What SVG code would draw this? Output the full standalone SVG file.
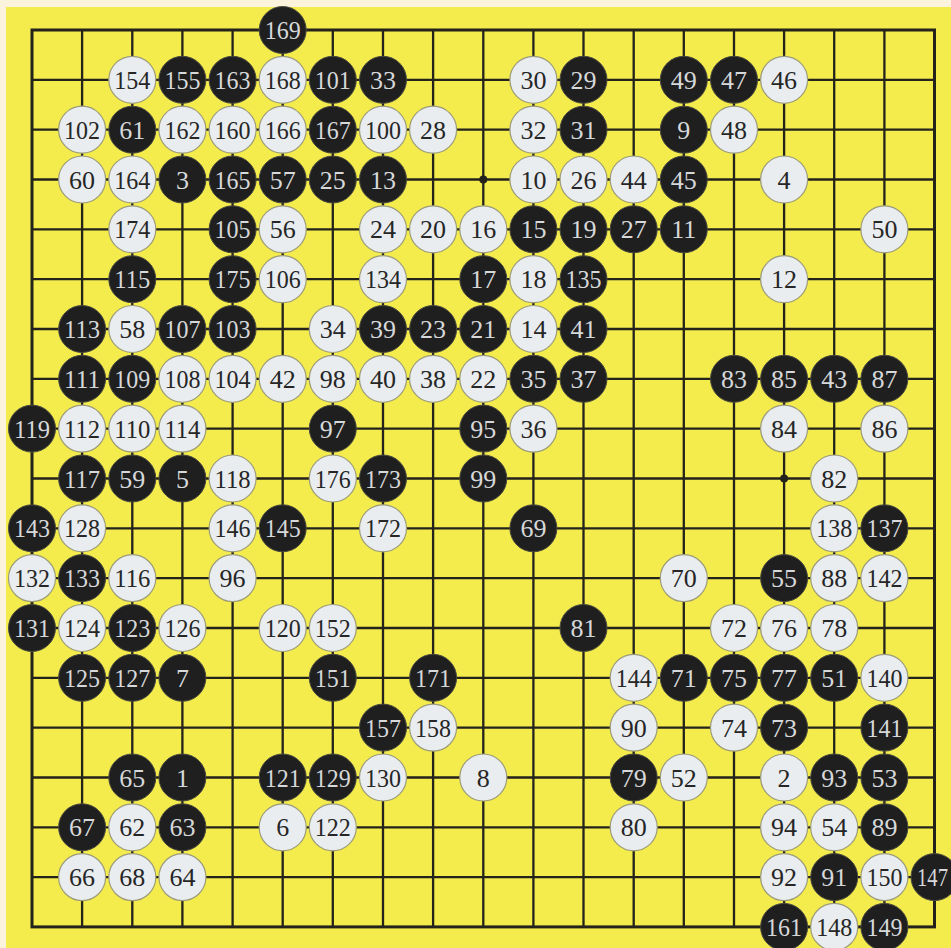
<svg xmlns="http://www.w3.org/2000/svg" width="951" height="948" viewBox="0 0 951 948">
<style>
.grid{fill:none;stroke:#23231c;stroke-width:2.3}
.edge{fill:none;stroke:#23231c;stroke-width:3}
.b{fill:#1f1f1f;stroke:#4a4a40;stroke-width:1}
.w{fill:#e9edf0;stroke:#9c9c7c;stroke-width:1.2}
text{font-family:"Liberation Serif","Times New Roman",serif;font-size:26px;text-anchor:middle}
.tb{fill:#d6d8da}
.tw{fill:#262626}
</style>
<rect x="0" y="0" width="951" height="948" fill="#fcf3dd"/>
<rect x="6" y="7" width="945" height="941" fill="#f4eb4c"/>
<g id="board">
<path class="grid" d="M82.1 30V926.9M132.3 30V926.9M182.4 30V926.9M232.6 30V926.9M282.7 30V926.9M332.8 30V926.9M383 30V926.9M433.1 30V926.9M483.3 30V926.9M533.4 30V926.9M583.5 30V926.9M633.7 30V926.9M683.8 30V926.9M734 30V926.9M784.1 30V926.9M834.2 30V926.9M884.4 30V926.9M32 79.8H934.5M32 129.7H934.5M32 179.5H934.5M32 229.3H934.5M32 279.2H934.5M32 329H934.5M32 378.8H934.5M32 428.6H934.5M32 478.5H934.5M32 528.3H934.5M32 578.1H934.5M32 628H934.5M32 677.8H934.5M32 727.6H934.5M32 777.5H934.5M32 827.3H934.5M32 877.1H934.5"/>
<rect class="edge" x="32" y="30" width="902.5" height="896.9"/>
<circle cx="483.3" cy="179.5" r="4" fill="#23231c"/>
<circle cx="784.1" cy="478.5" r="4" fill="#23231c"/>
</g>
<g id="stones">
<g id="s169" transform="translate(282.7,30)"><circle class="b" r="23.5"/><text class="tb" y="9" textLength="36" lengthAdjust="spacingAndGlyphs">169</text></g>
<g id="s154" transform="translate(132.3,79.8)"><circle class="w" r="23.5"/><text class="tw" y="9" textLength="36" lengthAdjust="spacingAndGlyphs">154</text></g>
<g id="s155" transform="translate(182.4,79.8)"><circle class="b" r="23.5"/><text class="tb" y="9" textLength="36" lengthAdjust="spacingAndGlyphs">155</text></g>
<g id="s163" transform="translate(232.6,79.8)"><circle class="b" r="23.5"/><text class="tb" y="9" textLength="36" lengthAdjust="spacingAndGlyphs">163</text></g>
<g id="s168" transform="translate(282.7,79.8)"><circle class="w" r="23.5"/><text class="tw" y="9" textLength="36" lengthAdjust="spacingAndGlyphs">168</text></g>
<g id="s101" transform="translate(332.8,79.8)"><circle class="b" r="23.5"/><text class="tb" y="9" textLength="36" lengthAdjust="spacingAndGlyphs">101</text></g>
<g id="s33" transform="translate(383,79.8)"><circle class="b" r="23.5"/><text class="tb" y="9">33</text></g>
<g id="s30" transform="translate(533.4,79.8)"><circle class="w" r="23.5"/><text class="tw" y="9">30</text></g>
<g id="s29" transform="translate(583.5,79.8)"><circle class="b" r="23.5"/><text class="tb" y="9">29</text></g>
<g id="s49" transform="translate(683.8,79.8)"><circle class="b" r="23.5"/><text class="tb" y="9">49</text></g>
<g id="s47" transform="translate(734,79.8)"><circle class="b" r="23.5"/><text class="tb" y="9">47</text></g>
<g id="s46" transform="translate(784.1,79.8)"><circle class="w" r="23.5"/><text class="tw" y="9">46</text></g>
<g id="s102" transform="translate(82.1,129.7)"><circle class="w" r="23.5"/><text class="tw" y="9" textLength="36" lengthAdjust="spacingAndGlyphs">102</text></g>
<g id="s61" transform="translate(132.3,129.7)"><circle class="b" r="23.5"/><text class="tb" y="9">61</text></g>
<g id="s162" transform="translate(182.4,129.7)"><circle class="w" r="23.5"/><text class="tw" y="9" textLength="36" lengthAdjust="spacingAndGlyphs">162</text></g>
<g id="s160" transform="translate(232.6,129.7)"><circle class="w" r="23.5"/><text class="tw" y="9" textLength="36" lengthAdjust="spacingAndGlyphs">160</text></g>
<g id="s166" transform="translate(282.7,129.7)"><circle class="w" r="23.5"/><text class="tw" y="9" textLength="36" lengthAdjust="spacingAndGlyphs">166</text></g>
<g id="s167" transform="translate(332.8,129.7)"><circle class="b" r="23.5"/><text class="tb" y="9" textLength="36" lengthAdjust="spacingAndGlyphs">167</text></g>
<g id="s100" transform="translate(383,129.7)"><circle class="w" r="23.5"/><text class="tw" y="9" textLength="36" lengthAdjust="spacingAndGlyphs">100</text></g>
<g id="s28" transform="translate(433.1,129.7)"><circle class="w" r="23.5"/><text class="tw" y="9">28</text></g>
<g id="s32" transform="translate(533.4,129.7)"><circle class="w" r="23.5"/><text class="tw" y="9">32</text></g>
<g id="s31" transform="translate(583.5,129.7)"><circle class="b" r="23.5"/><text class="tb" y="9">31</text></g>
<g id="s9" transform="translate(683.8,129.7)"><circle class="b" r="23.5"/><text class="tb" y="9">9</text></g>
<g id="s48" transform="translate(734,129.7)"><circle class="w" r="23.5"/><text class="tw" y="9">48</text></g>
<g id="s60" transform="translate(82.1,179.5)"><circle class="w" r="23.5"/><text class="tw" y="9">60</text></g>
<g id="s164" transform="translate(132.3,179.5)"><circle class="w" r="23.5"/><text class="tw" y="9" textLength="36" lengthAdjust="spacingAndGlyphs">164</text></g>
<g id="s3" transform="translate(182.4,179.5)"><circle class="b" r="23.5"/><text class="tb" y="9">3</text></g>
<g id="s165" transform="translate(232.6,179.5)"><circle class="b" r="23.5"/><text class="tb" y="9" textLength="36" lengthAdjust="spacingAndGlyphs">165</text></g>
<g id="s57" transform="translate(282.7,179.5)"><circle class="b" r="23.5"/><text class="tb" y="9">57</text></g>
<g id="s25" transform="translate(332.8,179.5)"><circle class="b" r="23.5"/><text class="tb" y="9">25</text></g>
<g id="s13" transform="translate(383,179.5)"><circle class="b" r="23.5"/><text class="tb" y="9">13</text></g>
<g id="s10" transform="translate(533.4,179.5)"><circle class="w" r="23.5"/><text class="tw" y="9">10</text></g>
<g id="s26" transform="translate(583.5,179.5)"><circle class="w" r="23.5"/><text class="tw" y="9">26</text></g>
<g id="s44" transform="translate(633.7,179.5)"><circle class="w" r="23.5"/><text class="tw" y="9">44</text></g>
<g id="s45" transform="translate(683.8,179.5)"><circle class="b" r="23.5"/><text class="tb" y="9">45</text></g>
<g id="s4" transform="translate(784.1,179.5)"><circle class="w" r="23.5"/><text class="tw" y="9">4</text></g>
<g id="s174" transform="translate(132.3,229.3)"><circle class="w" r="23.5"/><text class="tw" y="9" textLength="36" lengthAdjust="spacingAndGlyphs">174</text></g>
<g id="s105" transform="translate(232.6,229.3)"><circle class="b" r="23.5"/><text class="tb" y="9" textLength="36" lengthAdjust="spacingAndGlyphs">105</text></g>
<g id="s56" transform="translate(282.7,229.3)"><circle class="w" r="23.5"/><text class="tw" y="9">56</text></g>
<g id="s24" transform="translate(383,229.3)"><circle class="w" r="23.5"/><text class="tw" y="9">24</text></g>
<g id="s20" transform="translate(433.1,229.3)"><circle class="w" r="23.5"/><text class="tw" y="9">20</text></g>
<g id="s16" transform="translate(483.3,229.3)"><circle class="w" r="23.5"/><text class="tw" y="9">16</text></g>
<g id="s15" transform="translate(533.4,229.3)"><circle class="b" r="23.5"/><text class="tb" y="9">15</text></g>
<g id="s19" transform="translate(583.5,229.3)"><circle class="b" r="23.5"/><text class="tb" y="9">19</text></g>
<g id="s27" transform="translate(633.7,229.3)"><circle class="b" r="23.5"/><text class="tb" y="9">27</text></g>
<g id="s11" transform="translate(683.8,229.3)"><circle class="b" r="23.5"/><text class="tb" y="9">11</text></g>
<g id="s50" transform="translate(884.4,229.3)"><circle class="w" r="23.5"/><text class="tw" y="9">50</text></g>
<g id="s115" transform="translate(132.3,279.2)"><circle class="b" r="23.5"/><text class="tb" y="9" textLength="36" lengthAdjust="spacingAndGlyphs">115</text></g>
<g id="s175" transform="translate(232.6,279.2)"><circle class="b" r="23.5"/><text class="tb" y="9" textLength="36" lengthAdjust="spacingAndGlyphs">175</text></g>
<g id="s106" transform="translate(282.7,279.2)"><circle class="w" r="23.5"/><text class="tw" y="9" textLength="36" lengthAdjust="spacingAndGlyphs">106</text></g>
<g id="s134" transform="translate(383,279.2)"><circle class="w" r="23.5"/><text class="tw" y="9" textLength="36" lengthAdjust="spacingAndGlyphs">134</text></g>
<g id="s17" transform="translate(483.3,279.2)"><circle class="b" r="23.5"/><text class="tb" y="9">17</text></g>
<g id="s18" transform="translate(533.4,279.2)"><circle class="w" r="23.5"/><text class="tw" y="9">18</text></g>
<g id="s135" transform="translate(583.5,279.2)"><circle class="b" r="23.5"/><text class="tb" y="9" textLength="36" lengthAdjust="spacingAndGlyphs">135</text></g>
<g id="s12" transform="translate(784.1,279.2)"><circle class="w" r="23.5"/><text class="tw" y="9">12</text></g>
<g id="s113" transform="translate(82.1,329)"><circle class="b" r="23.5"/><text class="tb" y="9" textLength="36" lengthAdjust="spacingAndGlyphs">113</text></g>
<g id="s58" transform="translate(132.3,329)"><circle class="w" r="23.5"/><text class="tw" y="9">58</text></g>
<g id="s107" transform="translate(182.4,329)"><circle class="b" r="23.5"/><text class="tb" y="9" textLength="36" lengthAdjust="spacingAndGlyphs">107</text></g>
<g id="s103" transform="translate(232.6,329)"><circle class="b" r="23.5"/><text class="tb" y="9" textLength="36" lengthAdjust="spacingAndGlyphs">103</text></g>
<g id="s34" transform="translate(332.8,329)"><circle class="w" r="23.5"/><text class="tw" y="9">34</text></g>
<g id="s39" transform="translate(383,329)"><circle class="b" r="23.5"/><text class="tb" y="9">39</text></g>
<g id="s23" transform="translate(433.1,329)"><circle class="b" r="23.5"/><text class="tb" y="9">23</text></g>
<g id="s21" transform="translate(483.3,329)"><circle class="b" r="23.5"/><text class="tb" y="9">21</text></g>
<g id="s14" transform="translate(533.4,329)"><circle class="w" r="23.5"/><text class="tw" y="9">14</text></g>
<g id="s41" transform="translate(583.5,329)"><circle class="b" r="23.5"/><text class="tb" y="9">41</text></g>
<g id="s111" transform="translate(82.1,378.8)"><circle class="b" r="23.5"/><text class="tb" y="9" textLength="36" lengthAdjust="spacingAndGlyphs">111</text></g>
<g id="s109" transform="translate(132.3,378.8)"><circle class="b" r="23.5"/><text class="tb" y="9" textLength="36" lengthAdjust="spacingAndGlyphs">109</text></g>
<g id="s108" transform="translate(182.4,378.8)"><circle class="w" r="23.5"/><text class="tw" y="9" textLength="36" lengthAdjust="spacingAndGlyphs">108</text></g>
<g id="s104" transform="translate(232.6,378.8)"><circle class="w" r="23.5"/><text class="tw" y="9" textLength="36" lengthAdjust="spacingAndGlyphs">104</text></g>
<g id="s42" transform="translate(282.7,378.8)"><circle class="w" r="23.5"/><text class="tw" y="9">42</text></g>
<g id="s98" transform="translate(332.8,378.8)"><circle class="w" r="23.5"/><text class="tw" y="9">98</text></g>
<g id="s40" transform="translate(383,378.8)"><circle class="w" r="23.5"/><text class="tw" y="9">40</text></g>
<g id="s38" transform="translate(433.1,378.8)"><circle class="w" r="23.5"/><text class="tw" y="9">38</text></g>
<g id="s22" transform="translate(483.3,378.8)"><circle class="w" r="23.5"/><text class="tw" y="9">22</text></g>
<g id="s35" transform="translate(533.4,378.8)"><circle class="b" r="23.5"/><text class="tb" y="9">35</text></g>
<g id="s37" transform="translate(583.5,378.8)"><circle class="b" r="23.5"/><text class="tb" y="9">37</text></g>
<g id="s83" transform="translate(734,378.8)"><circle class="b" r="23.5"/><text class="tb" y="9">83</text></g>
<g id="s85" transform="translate(784.1,378.8)"><circle class="b" r="23.5"/><text class="tb" y="9">85</text></g>
<g id="s43" transform="translate(834.2,378.8)"><circle class="b" r="23.5"/><text class="tb" y="9">43</text></g>
<g id="s87" transform="translate(884.4,378.8)"><circle class="b" r="23.5"/><text class="tb" y="9">87</text></g>
<g id="s119" transform="translate(32,428.6)"><circle class="b" r="23.5"/><text class="tb" y="9" textLength="36" lengthAdjust="spacingAndGlyphs">119</text></g>
<g id="s112" transform="translate(82.1,428.6)"><circle class="w" r="23.5"/><text class="tw" y="9" textLength="36" lengthAdjust="spacingAndGlyphs">112</text></g>
<g id="s110" transform="translate(132.3,428.6)"><circle class="w" r="23.5"/><text class="tw" y="9" textLength="36" lengthAdjust="spacingAndGlyphs">110</text></g>
<g id="s114" transform="translate(182.4,428.6)"><circle class="w" r="23.5"/><text class="tw" y="9" textLength="36" lengthAdjust="spacingAndGlyphs">114</text></g>
<g id="s97" transform="translate(332.8,428.6)"><circle class="b" r="23.5"/><text class="tb" y="9">97</text></g>
<g id="s95" transform="translate(483.3,428.6)"><circle class="b" r="23.5"/><text class="tb" y="9">95</text></g>
<g id="s36" transform="translate(533.4,428.6)"><circle class="w" r="23.5"/><text class="tw" y="9">36</text></g>
<g id="s84" transform="translate(784.1,428.6)"><circle class="w" r="23.5"/><text class="tw" y="9">84</text></g>
<g id="s86" transform="translate(884.4,428.6)"><circle class="w" r="23.5"/><text class="tw" y="9">86</text></g>
<g id="s117" transform="translate(82.1,478.5)"><circle class="b" r="23.5"/><text class="tb" y="9" textLength="36" lengthAdjust="spacingAndGlyphs">117</text></g>
<g id="s59" transform="translate(132.3,478.5)"><circle class="b" r="23.5"/><text class="tb" y="9">59</text></g>
<g id="s5" transform="translate(182.4,478.5)"><circle class="b" r="23.5"/><text class="tb" y="9">5</text></g>
<g id="s118" transform="translate(232.6,478.5)"><circle class="w" r="23.5"/><text class="tw" y="9" textLength="36" lengthAdjust="spacingAndGlyphs">118</text></g>
<g id="s176" transform="translate(332.8,478.5)"><circle class="w" r="23.5"/><text class="tw" y="9" textLength="36" lengthAdjust="spacingAndGlyphs">176</text></g>
<g id="s173" transform="translate(383,478.5)"><circle class="b" r="23.5"/><text class="tb" y="9" textLength="36" lengthAdjust="spacingAndGlyphs">173</text></g>
<g id="s99" transform="translate(483.3,478.5)"><circle class="b" r="23.5"/><text class="tb" y="9">99</text></g>
<g id="s82" transform="translate(834.2,478.5)"><circle class="w" r="23.5"/><text class="tw" y="9">82</text></g>
<g id="s143" transform="translate(32,528.3)"><circle class="b" r="23.5"/><text class="tb" y="9" textLength="36" lengthAdjust="spacingAndGlyphs">143</text></g>
<g id="s128" transform="translate(82.1,528.3)"><circle class="w" r="23.5"/><text class="tw" y="9" textLength="36" lengthAdjust="spacingAndGlyphs">128</text></g>
<g id="s146" transform="translate(232.6,528.3)"><circle class="w" r="23.5"/><text class="tw" y="9" textLength="36" lengthAdjust="spacingAndGlyphs">146</text></g>
<g id="s145" transform="translate(282.7,528.3)"><circle class="b" r="23.5"/><text class="tb" y="9" textLength="36" lengthAdjust="spacingAndGlyphs">145</text></g>
<g id="s172" transform="translate(383,528.3)"><circle class="w" r="23.5"/><text class="tw" y="9" textLength="36" lengthAdjust="spacingAndGlyphs">172</text></g>
<g id="s69" transform="translate(533.4,528.3)"><circle class="b" r="23.5"/><text class="tb" y="9">69</text></g>
<g id="s138" transform="translate(834.2,528.3)"><circle class="w" r="23.5"/><text class="tw" y="9" textLength="36" lengthAdjust="spacingAndGlyphs">138</text></g>
<g id="s137" transform="translate(884.4,528.3)"><circle class="b" r="23.5"/><text class="tb" y="9" textLength="36" lengthAdjust="spacingAndGlyphs">137</text></g>
<g id="s132" transform="translate(32,578.1)"><circle class="w" r="23.5"/><text class="tw" y="9" textLength="36" lengthAdjust="spacingAndGlyphs">132</text></g>
<g id="s133" transform="translate(82.1,578.1)"><circle class="b" r="23.5"/><text class="tb" y="9" textLength="36" lengthAdjust="spacingAndGlyphs">133</text></g>
<g id="s116" transform="translate(132.3,578.1)"><circle class="w" r="23.5"/><text class="tw" y="9" textLength="36" lengthAdjust="spacingAndGlyphs">116</text></g>
<g id="s96" transform="translate(232.6,578.1)"><circle class="w" r="23.5"/><text class="tw" y="9">96</text></g>
<g id="s70" transform="translate(683.8,578.1)"><circle class="w" r="23.5"/><text class="tw" y="9">70</text></g>
<g id="s55" transform="translate(784.1,578.1)"><circle class="b" r="23.5"/><text class="tb" y="9">55</text></g>
<g id="s88" transform="translate(834.2,578.1)"><circle class="w" r="23.5"/><text class="tw" y="9">88</text></g>
<g id="s142" transform="translate(884.4,578.1)"><circle class="w" r="23.5"/><text class="tw" y="9" textLength="36" lengthAdjust="spacingAndGlyphs">142</text></g>
<g id="s131" transform="translate(32,628)"><circle class="b" r="23.5"/><text class="tb" y="9" textLength="36" lengthAdjust="spacingAndGlyphs">131</text></g>
<g id="s124" transform="translate(82.1,628)"><circle class="w" r="23.5"/><text class="tw" y="9" textLength="36" lengthAdjust="spacingAndGlyphs">124</text></g>
<g id="s123" transform="translate(132.3,628)"><circle class="b" r="23.5"/><text class="tb" y="9" textLength="36" lengthAdjust="spacingAndGlyphs">123</text></g>
<g id="s126" transform="translate(182.4,628)"><circle class="w" r="23.5"/><text class="tw" y="9" textLength="36" lengthAdjust="spacingAndGlyphs">126</text></g>
<g id="s120" transform="translate(282.7,628)"><circle class="w" r="23.5"/><text class="tw" y="9" textLength="36" lengthAdjust="spacingAndGlyphs">120</text></g>
<g id="s152" transform="translate(332.8,628)"><circle class="w" r="23.5"/><text class="tw" y="9" textLength="36" lengthAdjust="spacingAndGlyphs">152</text></g>
<g id="s81" transform="translate(583.5,628)"><circle class="b" r="23.5"/><text class="tb" y="9">81</text></g>
<g id="s72" transform="translate(734,628)"><circle class="w" r="23.5"/><text class="tw" y="9">72</text></g>
<g id="s76" transform="translate(784.1,628)"><circle class="w" r="23.5"/><text class="tw" y="9">76</text></g>
<g id="s78" transform="translate(834.2,628)"><circle class="w" r="23.5"/><text class="tw" y="9">78</text></g>
<g id="s125" transform="translate(82.1,677.8)"><circle class="b" r="23.5"/><text class="tb" y="9" textLength="36" lengthAdjust="spacingAndGlyphs">125</text></g>
<g id="s127" transform="translate(132.3,677.8)"><circle class="b" r="23.5"/><text class="tb" y="9" textLength="36" lengthAdjust="spacingAndGlyphs">127</text></g>
<g id="s7" transform="translate(182.4,677.8)"><circle class="b" r="23.5"/><text class="tb" y="9">7</text></g>
<g id="s151" transform="translate(332.8,677.8)"><circle class="b" r="23.5"/><text class="tb" y="9" textLength="36" lengthAdjust="spacingAndGlyphs">151</text></g>
<g id="s171" transform="translate(433.1,677.8)"><circle class="b" r="23.5"/><text class="tb" y="9" textLength="36" lengthAdjust="spacingAndGlyphs">171</text></g>
<g id="s144" transform="translate(633.7,677.8)"><circle class="w" r="23.5"/><text class="tw" y="9" textLength="36" lengthAdjust="spacingAndGlyphs">144</text></g>
<g id="s71" transform="translate(683.8,677.8)"><circle class="b" r="23.5"/><text class="tb" y="9">71</text></g>
<g id="s75" transform="translate(734,677.8)"><circle class="b" r="23.5"/><text class="tb" y="9">75</text></g>
<g id="s77" transform="translate(784.1,677.8)"><circle class="b" r="23.5"/><text class="tb" y="9">77</text></g>
<g id="s51" transform="translate(834.2,677.8)"><circle class="b" r="23.5"/><text class="tb" y="9">51</text></g>
<g id="s140" transform="translate(884.4,677.8)"><circle class="w" r="23.5"/><text class="tw" y="9" textLength="36" lengthAdjust="spacingAndGlyphs">140</text></g>
<g id="s157" transform="translate(383,727.6)"><circle class="b" r="23.5"/><text class="tb" y="9" textLength="36" lengthAdjust="spacingAndGlyphs">157</text></g>
<g id="s158" transform="translate(433.1,727.6)"><circle class="w" r="23.5"/><text class="tw" y="9" textLength="36" lengthAdjust="spacingAndGlyphs">158</text></g>
<g id="s90" transform="translate(633.7,727.6)"><circle class="w" r="23.5"/><text class="tw" y="9">90</text></g>
<g id="s74" transform="translate(734,727.6)"><circle class="w" r="23.5"/><text class="tw" y="9">74</text></g>
<g id="s73" transform="translate(784.1,727.6)"><circle class="b" r="23.5"/><text class="tb" y="9">73</text></g>
<g id="s141" transform="translate(884.4,727.6)"><circle class="b" r="23.5"/><text class="tb" y="9" textLength="36" lengthAdjust="spacingAndGlyphs">141</text></g>
<g id="s65" transform="translate(132.3,777.5)"><circle class="b" r="23.5"/><text class="tb" y="9">65</text></g>
<g id="s1" transform="translate(182.4,777.5)"><circle class="b" r="23.5"/><text class="tb" y="9">1</text></g>
<g id="s121" transform="translate(282.7,777.5)"><circle class="b" r="23.5"/><text class="tb" y="9" textLength="36" lengthAdjust="spacingAndGlyphs">121</text></g>
<g id="s129" transform="translate(332.8,777.5)"><circle class="b" r="23.5"/><text class="tb" y="9" textLength="36" lengthAdjust="spacingAndGlyphs">129</text></g>
<g id="s130" transform="translate(383,777.5)"><circle class="w" r="23.5"/><text class="tw" y="9" textLength="36" lengthAdjust="spacingAndGlyphs">130</text></g>
<g id="s8" transform="translate(483.3,777.5)"><circle class="w" r="23.5"/><text class="tw" y="9">8</text></g>
<g id="s79" transform="translate(633.7,777.5)"><circle class="b" r="23.5"/><text class="tb" y="9">79</text></g>
<g id="s52" transform="translate(683.8,777.5)"><circle class="w" r="23.5"/><text class="tw" y="9">52</text></g>
<g id="s2" transform="translate(784.1,777.5)"><circle class="w" r="23.5"/><text class="tw" y="9">2</text></g>
<g id="s93" transform="translate(834.2,777.5)"><circle class="b" r="23.5"/><text class="tb" y="9">93</text></g>
<g id="s53" transform="translate(884.4,777.5)"><circle class="b" r="23.5"/><text class="tb" y="9">53</text></g>
<g id="s67" transform="translate(82.1,827.3)"><circle class="b" r="23.5"/><text class="tb" y="9">67</text></g>
<g id="s62" transform="translate(132.3,827.3)"><circle class="w" r="23.5"/><text class="tw" y="9">62</text></g>
<g id="s63" transform="translate(182.4,827.3)"><circle class="b" r="23.5"/><text class="tb" y="9">63</text></g>
<g id="s6" transform="translate(282.7,827.3)"><circle class="w" r="23.5"/><text class="tw" y="9">6</text></g>
<g id="s122" transform="translate(332.8,827.3)"><circle class="w" r="23.5"/><text class="tw" y="9" textLength="36" lengthAdjust="spacingAndGlyphs">122</text></g>
<g id="s80" transform="translate(633.7,827.3)"><circle class="w" r="23.5"/><text class="tw" y="9">80</text></g>
<g id="s94" transform="translate(784.1,827.3)"><circle class="w" r="23.5"/><text class="tw" y="9">94</text></g>
<g id="s54" transform="translate(834.2,827.3)"><circle class="w" r="23.5"/><text class="tw" y="9">54</text></g>
<g id="s89" transform="translate(884.4,827.3)"><circle class="b" r="23.5"/><text class="tb" y="9">89</text></g>
<g id="s66" transform="translate(82.1,877.1)"><circle class="w" r="23.5"/><text class="tw" y="9">66</text></g>
<g id="s68" transform="translate(132.3,877.1)"><circle class="w" r="23.5"/><text class="tw" y="9">68</text></g>
<g id="s64" transform="translate(182.4,877.1)"><circle class="w" r="23.5"/><text class="tw" y="9">64</text></g>
<g id="s92" transform="translate(784.1,877.1)"><circle class="w" r="23.5"/><text class="tw" y="9">92</text></g>
<g id="s91" transform="translate(834.2,877.1)"><circle class="b" r="23.5"/><text class="tb" y="9">91</text></g>
<g id="s150" transform="translate(884.4,877.1)"><circle class="w" r="23.5"/><text class="tw" y="9" textLength="36" lengthAdjust="spacingAndGlyphs">150</text></g>
<g id="s147" transform="translate(934.5,877.1)"><circle class="b" r="23.5"/><text class="tb" x="-2" y="9" textLength="31" lengthAdjust="spacingAndGlyphs">147</text></g>
<g id="s161" transform="translate(784.1,926.9)"><circle class="b" r="23.5"/><text class="tb" y="9" textLength="36" lengthAdjust="spacingAndGlyphs">161</text></g>
<g id="s148" transform="translate(834.2,926.9)"><circle class="w" r="23.5"/><text class="tw" y="9" textLength="36" lengthAdjust="spacingAndGlyphs">148</text></g>
<g id="s149" transform="translate(884.4,926.9)"><circle class="b" r="23.5"/><text class="tb" y="9" textLength="36" lengthAdjust="spacingAndGlyphs">149</text></g>
</g>
</svg>
